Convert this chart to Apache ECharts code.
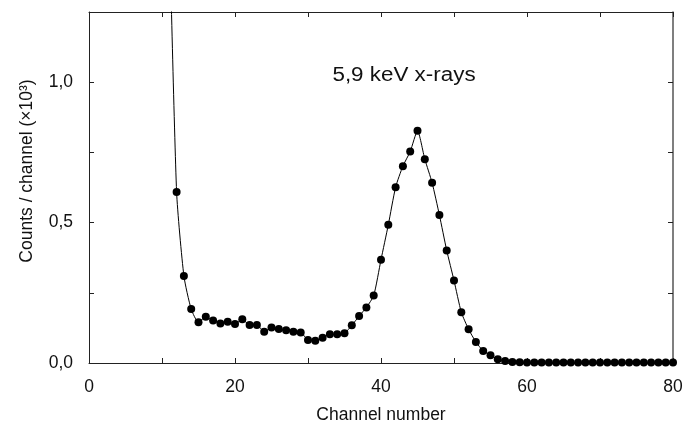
<!DOCTYPE html>
<html>
<head>
<meta charset="utf-8">
<script src="https://cdn.jsdelivr.net/npm/echarts@6/dist/echarts.min.js"></script>
<style>
  html, body { margin: 0; padding: 0; background: #fff; }
  #chart { width: 694px; height: 428px; }
</style>
</head>
<body>
<div id="chart"></div>
<script>
// Pulse-height spectrum: counts per channel (in thousands) for 5,9 keV x-rays
const channels = [
  11, 12, 13, 14, 15, 16, 17, 18, 19, 20,
  21, 22, 23, 24, 25, 26, 27, 28, 29, 30,
  31, 32, 33, 34, 35, 36, 37, 38, 39, 40,
  41, 42, 43, 44, 45, 46, 47, 48, 49, 50,
  51, 52, 53, 54, 55, 56, 57, 58, 59, 60,
  61, 62, 63, 64, 65, 66, 67, 68, 69, 70,
  71, 72, 73, 74, 75, 76, 77, 78, 79, 80
];
const counts = [
  1.57, 0.609, 0.310, 0.192, 0.145, 0.165, 0.151, 0.141, 0.147, 0.139,
  0.156, 0.135, 0.135, 0.111, 0.126, 0.121, 0.117, 0.111, 0.109, 0.082,
  0.079, 0.090, 0.102, 0.102, 0.106, 0.134, 0.167, 0.198, 0.240, 0.368,
  0.492, 0.626, 0.701, 0.753, 0.827, 0.726, 0.642, 0.527, 0.401, 0.294,
  0.181, 0.120, 0.075, 0.043, 0.028, 0.013, 0.007, 0.004, 0.003, 0.002,
  0.002, 0.002, 0.002, 0.002, 0.002, 0.002, 0.002, 0.002, 0.002, 0.002,
  0.002, 0.002, 0.002, 0.002, 0.002, 0.002, 0.002, 0.002, 0.002, 0.002
];
const xTickLabels = [0, 20, 40, 60, 80];
const yTickLabels = [0, 0.5, 1.0];

const titleText = '5,9 keV x-rays';
const xName = 'Channel number';
const yName = 'Counts / channel (×10³)';

const FONT = '"Liberation Sans", Arial, Helvetica, sans-serif';
const INK = '#111';

const chart = echarts.init(document.getElementById('chart'), null, { renderer: 'canvas' });

const tickStyle = { show: true, inside: true, length: 5, lineStyle: { color: '#222', width: 1 } };
const lineStyle = { show: true, onZero: false, lineStyle: { color: '#222', width: 1 } };

const fmtComma = v => v.toFixed(1).replace('.', ',');

chart.setOption({
  animation: false,
  backgroundColor: '#fff',
  grid: { left: 89, right: 21, top: 12, bottom: 65, containLabel: false },
  xAxis: [
    {
      type: 'value', position: 'bottom', min: 0, max: 80, interval: 10,
      axisLine: lineStyle, axisTick: tickStyle, splitLine: { show: false },
      axisLabel: {
        margin: 15, color: INK, fontFamily: FONT, fontSize: 17.5,
        formatter: v => (xTickLabels.indexOf(v) >= 0 ? String(v) : '')
      }
    },
    {
      type: 'value', position: 'top', min: 0, max: 80, interval: 10,
      axisLine: lineStyle, axisTick: tickStyle, splitLine: { show: false },
      axisLabel: { show: false }
    }
  ],
  yAxis: [
    {
      type: 'value', position: 'left', min: 0, max: 1.25, interval: 0.25,
      axisLine: lineStyle, axisTick: tickStyle, splitLine: { show: false },
      axisLabel: {
        margin: 16, color: INK, fontFamily: FONT, fontSize: 17.5,
        formatter: v => (yTickLabels.some(t => Math.abs(t - v) < 1e-9) ? fmtComma(v) : '')
      }
    },
    {
      type: 'value', position: 'right', min: 0, max: 1.25, interval: 0.25,
      axisLine: { show: true, onZero: false, lineStyle: { color: '#555', width: 1.5 } },
      axisTick: tickStyle, splitLine: { show: false },
      axisLabel: { show: false }
    }
  ],
  graphic: [
    {
      type: 'text', x: 404, y: 75, scaleX: 1.12,
      style: { text: titleText, font: '20px ' + FONT, fill: INK, align: 'center', verticalAlign: 'middle' }
    },
    {
      type: 'text', x: 381, y: 415,
      style: { text: xName, font: '17.5px ' + FONT, fill: INK, align: 'center', verticalAlign: 'middle' }
    },
    {
      type: 'text', x: 27, y: 171, rotation: Math.PI / 2,
      style: { text: yName, font: '17.5px ' + FONT, fill: INK, align: 'center', verticalAlign: 'middle' }
    }
  ],
  series: [
    {
      type: 'line',
      xAxisIndex: 0, yAxisIndex: 0,
      data: channels.map((c, i) => [c, counts[i]]),
      smooth: 0.2,
      clip: true,
      symbol: 'circle',
      symbolSize: 8,
      itemStyle: { color: '#000' },
      lineStyle: { color: '#000', width: 1 },
      z: 5
    }
  ]
});
</script>
</body>
</html>
